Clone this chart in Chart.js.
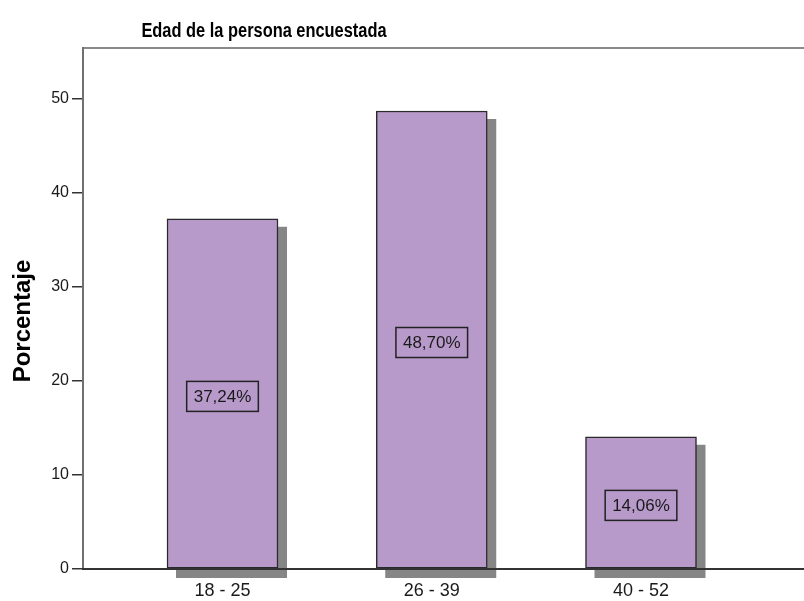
<!DOCTYPE html>
<html>
<head>
<meta charset="utf-8">
<script src="https://cdn.jsdelivr.net/npm/chart.js@4.4.1/dist/chart.umd.min.js"></script>
<style>
  html, body { margin: 0; padding: 0; background: #fff; }
  #wrap { width: 804px; height: 601px; }
</style>
</head>
<body>
<div id="wrap"><canvas id="grafico" width="804" height="601"></canvas></div>
<script>
var categorias = ['18 - 25', '26 - 39', '40 - 52'];
var porcentajes = [37.24, 48.70, 14.06];
var etiquetas = ['37,24%', '48,70%', '14,06%'];
var ticksY = [0, 10, 20, 30, 40, 50];

var titulo = 'Edad de la persona encuestada';
var tituloEje = 'Porcentaje';

var FUENTE = '"Liberation Sans", Arial, sans-serif';

var puntos = [];
for (var i = 0; i < categorias.length; i++) {
    puntos.push({ x: i + 1, y: porcentajes[i] });
}

// sombra gris detras de cada barra
var sombras = {
    id: 'sombras',
    beforeDatasetsDraw: function(chart) {
        var ctx = chart.ctx;
        var base = chart.scales.y.getPixelForValue(0);
        ctx.save();
        ctx.fillStyle = '#868686';
        chart.getDatasetMeta(0).data.forEach(function(bar) {
            var w = bar.width;
            ctx.fillRect(bar.x - w / 2 + 9, bar.y + 8, w, base - bar.y + 1);
        });
        ctx.restore();
    }
};

// marco, etiquetas de valor y textos
var adornos = {
    id: 'adornos',
    afterDatasetsDraw: function(chart) {
        var ctx = chart.ctx;
        var a = chart.chartArea;
        var yScale = chart.scales.y;
        var base = yScale.getPixelForValue(0);
        ctx.save();

        ctx.lineWidth = 2;
        ctx.strokeStyle = '#8a8a8a';
        ctx.beginPath();
        ctx.moveTo(a.left, a.top);
        ctx.lineTo(a.right, a.top);
        ctx.stroke();

        ctx.strokeStyle = '#707070';
        ctx.beginPath();
        ctx.moveTo(a.left, a.top - 1);
        ctx.lineTo(a.left, a.bottom);
        ctx.stroke();

        ctx.strokeStyle = '#333333';
        ctx.beginPath();
        ctx.moveTo(a.left - 1, a.bottom);
        ctx.lineTo(a.right, a.bottom);
        ctx.stroke();

        // etiquetas con recuadro
        ctx.font = '17px ' + FUENTE;
        ctx.textAlign = 'center';
        ctx.textBaseline = 'middle';
        chart.getDatasetMeta(0).data.forEach(function(bar, i) {
            var cy = (bar.y + base) / 2 + 2.5;
            var tw = ctx.measureText(etiquetas[i]).width;
            var bw = tw + 14, bh = 30;
            ctx.lineWidth = 1.5;
            ctx.strokeStyle = '#222222';
            ctx.strokeRect(bar.x - bw / 2, cy - bh / 2, bw, bh);
            ctx.fillStyle = '#1a1a1a';
            ctx.fillText(etiquetas[i], bar.x, cy + 1);
        });

        // titulo
        ctx.fillStyle = '#000000';
        ctx.font = 'bold 20px ' + FUENTE;
        ctx.textBaseline = 'alphabetic';
        ctx.save();
        ctx.translate(264, 37);
        ctx.scale(0.82, 1);
        ctx.fillText(titulo, 0, 0);
        ctx.restore();

        // titulo del eje
        ctx.save();
        ctx.font = 'bold 24px ' + FUENTE;
        ctx.translate(30, 321);
        ctx.rotate(-Math.PI / 2);
        ctx.fillText(tituloEje, 0, 0);
        ctx.restore();

        ctx.restore();
    }
};

new Chart(document.getElementById('grafico'), {
    type: 'bar',
    data: {
        datasets: [{
            data: puntos,
            backgroundColor: 'rgb(184,154,202)',
            borderColor: '#2a2a2a',
            borderWidth: 1.5,
            borderSkipped: false,
            barThickness: 111
        }]
    },
    options: {
        responsive: false,
        animation: false,
        events: [],
        layout: { padding: { top: 48, right: 0, left: 0, bottom: 0 } },
        plugins: {
            legend: { display: false },
            tooltip: { enabled: false },
            title: { display: false }
        },
        scales: {
            x: {
                type: 'linear',
                min: 0.3333,
                max: 3.779,
                offset: false,
                afterBuildTicks: function(scale) {
                    scale.ticks = categorias.map(function(c, i) { return { value: i + 1 }; });
                },
                afterFit: function(scale) { scale.height = 32; },
                border: { display: false },
                grid: {
                    offset: false,
                    drawOnChartArea: false,
                    tickLength: 6,
                    tickColor: '#333333',
                    lineWidth: 1.5
                },
                ticks: {
                    color: '#1a1a1a',
                    padding: 5,
                    maxRotation: 0,
                    autoSkip: false,
                    font: { family: FUENTE, size: 18 },
                    callback: function(v) { return categorias[v - 1] || ''; }
                }
            },
            y: {
                min: 0,
                max: 55.4,
                afterBuildTicks: function(scale) {
                    scale.ticks = ticksY.map(function(v) { return { value: v }; });
                },
                afterFit: function(scale) { scale.width = 83; },
                border: { display: false },
                grid: {
                    drawOnChartArea: false,
                    tickLength: 11,
                    tickColor: '#333333',
                    lineWidth: 1.5
                },
                ticks: {
                    color: '#1a1a1a',
                    padding: 3,
                    font: { family: FUENTE, size: 16 }
                }
            }
        }
    },
    plugins: [sombras, adornos]
});
</script>
</body>
</html>
